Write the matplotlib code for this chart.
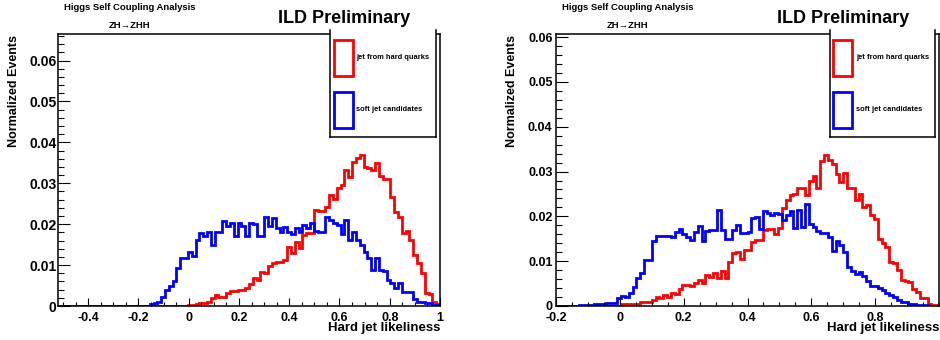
import numpy as np
import matplotlib
matplotlib.use('Agg')
import matplotlib.pyplot as plt
from matplotlib.ticker import MultipleLocator, FixedLocator, FuncFormatter
from matplotlib.patches import Rectangle
from matplotlib.lines import Line2D

# ---- data (normalized bin contents, 100 bins each) ----
left_range = (-0.52, 1.0)
left_hard = [0.0] * 34 + [
    0.0002, 0.0002, 0.0004, 0.0007, 0.0007, 0.0011, 0.0019, 0.0027, 0.0023, 0.0023,
    0.0031, 0.0037, 0.0037, 0.0040, 0.0040, 0.0045, 0.0055, 0.0068, 0.0064, 0.0084,
    0.0080, 0.0098, 0.0104, 0.0108, 0.0108, 0.0112, 0.0145, 0.0129, 0.0157, 0.0141,
    0.0174, 0.0178, 0.0178, 0.0235, 0.0232, 0.0232, 0.0243, 0.0271, 0.0262, 0.0288,
    0.0297, 0.0333, 0.0316, 0.0351, 0.0361, 0.0368, 0.0341, 0.0338, 0.0333, 0.0349,
    0.0319, 0.0310, 0.0310, 0.0267, 0.0231, 0.0218, 0.0178, 0.0183, 0.0162, 0.0125,
    0.0104, 0.0080, 0.0033, 0.0030, 0.0010, 0.0004]
left_soft = [0.0] * 24 + [
    0.0004, 0.0008, 0.0011, 0.0021, 0.0039, 0.0050, 0.0061, 0.0092, 0.0117, 0.0117,
    0.0133, 0.0122, 0.0161, 0.0178, 0.0171, 0.0182, 0.0150, 0.0182, 0.0182, 0.0209,
    0.0196, 0.0204, 0.0170, 0.0202, 0.0196, 0.0170, 0.0202, 0.0201, 0.0170, 0.0170,
    0.0217, 0.0196, 0.0214, 0.0190, 0.0180, 0.0194, 0.0180, 0.0175, 0.0190, 0.0180,
    0.0198, 0.0190, 0.0202, 0.0183, 0.0182, 0.0182, 0.0218, 0.0210, 0.0202, 0.0198,
    0.0175, 0.0210, 0.0162, 0.0180, 0.0162, 0.0149, 0.0133, 0.0117, 0.0088, 0.0117,
    0.0088, 0.0086, 0.0064, 0.0056, 0.0043, 0.0056, 0.0035, 0.0035, 0.0035, 0.0017,
    0.0011, 0.0011, 0.0007, 0.0007, 0.0003, 0.0003]

right_range = (-0.2, 1.0)
right_hard = [0.0] * 14 + [
    0.0001, 0.0001, 0.0001, 0.0004, 0.0004, 0.0004, 0.0004, 0.0004, 0.0010, 0.0010,
    0.0010, 0.0013, 0.0021, 0.0017, 0.0025, 0.0021, 0.0028, 0.0026, 0.0037, 0.0047,
    0.0047, 0.0045, 0.0051, 0.0058, 0.0052, 0.0069, 0.0065, 0.0073, 0.0063, 0.0078,
    0.0062, 0.0099, 0.0118, 0.0120, 0.0106, 0.0125, 0.0125, 0.0142, 0.0147, 0.0147,
    0.0170, 0.0172, 0.0172, 0.0160, 0.0173, 0.0218, 0.0237, 0.0248, 0.0249, 0.0263,
    0.0263, 0.0248, 0.0278, 0.0289, 0.0263, 0.0324, 0.0337, 0.0326, 0.0318, 0.0294,
    0.0276, 0.0296, 0.0264, 0.0264, 0.0237, 0.0251, 0.0222, 0.0225, 0.0203, 0.0194,
    0.0150, 0.0140, 0.0132, 0.0099, 0.0097, 0.0080, 0.0058, 0.0056, 0.0053, 0.0039,
    0.0032, 0.0017, 0.0017, 0.0005, 0.0002, 0.0002]
right_soft = [0.0] * 6 + [
    0.00015, 0.00015, 0.00015, 0.00015, 0.00045, 0.00045, 0.00045, 0.0007, 0.0007, 0.0007,
    0.0017, 0.0022, 0.0019, 0.0028, 0.0043, 0.0062, 0.0074, 0.0103, 0.0103, 0.0146,
    0.0156, 0.0156, 0.0156, 0.0156, 0.0153, 0.0166, 0.0171, 0.0161, 0.0153, 0.0147,
    0.0166, 0.0179, 0.0146, 0.0168, 0.0170, 0.0170, 0.0214, 0.0170, 0.0149, 0.0149,
    0.0170, 0.0181, 0.0164, 0.0162, 0.0166, 0.0196, 0.0199, 0.0171, 0.0211, 0.0207,
    0.0202, 0.0207, 0.0205, 0.0192, 0.0203, 0.0211, 0.0173, 0.0214, 0.0177, 0.0227,
    0.0182, 0.0177, 0.0167, 0.0164, 0.0164, 0.0155, 0.0123, 0.0144, 0.0136, 0.0120,
    0.0088, 0.0078, 0.0071, 0.0075, 0.0068, 0.0056, 0.0045, 0.0045, 0.0041, 0.0035,
    0.0028, 0.0024, 0.0021, 0.0013, 0.0010, 0.0010, 0.0005, 0.0004, 0.0003, 0.0002,
    0.0002, 0.0001, 0.0001, 0.0001]

left_xticks = [-0.4, -0.2, 0, 0.2, 0.4, 0.6, 0.8, 1.0]
right_xticks = [-0.2, 0, 0.2, 0.4, 0.6, 0.8]

plt.rcParams['font.family'] = ['Liberation Sans', 'DejaVu Sans']
plt.rcParams['font.weight'] = 'bold'

W, H = 940, 340
fig = plt.figure(figsize=(W / 100, H / 100), dpi=100)


def fx(x):
    return x / W


def fy(y):
    return 1 - y / H


def fmt_x(v, pos):
    if abs(v) < 1e-9:
        return '0'
    if abs(v - 1) < 1e-9:
        return '1'
    return f'{v:.1f}'


def fmt_y(v, pos):
    return '0' if abs(v) < 1e-9 else f'{v:.2f}'


def draw_panel(box, xrange_, hard, soft, ylim, xticks, yfs, ypad, ylab_x, text_x, ild_x, leg):
    x0, y0, x1, y1 = box
    ax = fig.add_axes([fx(x0), fy(y1), (x1 - x0) / W, (y1 - y0) / H])
    edges = np.linspace(xrange_[0], xrange_[1], len(hard) + 1)
    ax.stairs(hard, edges, color='#ff0000', lw=2.0)
    ax.stairs(soft, edges, color='#0000ff', lw=2.0)
    ax.set_xlim(*xrange_)
    ax.set_ylim(*ylim)
    ax.xaxis.set_major_locator(FixedLocator(xticks))
    ax.xaxis.set_minor_locator(MultipleLocator(0.05))
    ax.yaxis.set_major_locator(MultipleLocator(0.01))
    ax.yaxis.set_minor_locator(MultipleLocator(0.002))
    ax.xaxis.set_major_formatter(FuncFormatter(fmt_x))
    ax.yaxis.set_major_formatter(FuncFormatter(fmt_y))
    ax.tick_params(which='both', direction='in', top=False, right=False, width=0.8)
    ax.tick_params(axis='x', which='major', length=5.9, pad=4, labelsize=9)
    ax.tick_params(axis='x', which='minor', length=3)
    ax.tick_params(axis='y', which='major', length=8.3, pad=ypad, labelsize=yfs)
    ax.tick_params(axis='y', which='minor', length=4.1)
    for s in ax.spines.values():
        s.set_linewidth(1.1)

    fig.text(fx(ylab_x), fy(35), 'Normalized Events', rotation=90,
             ha='center', va='top', fontsize=9, fontweight='bold')
    fig.text(fx(x1), fy(328), 'Hard jet likeliness', ha='right', va='center',
             fontsize=9.5, fontweight='bold')
    fig.text(fx(text_x), fy(7), 'Higgs Self Coupling Analysis', ha='center', va='center',
             fontsize=6.8, fontweight='bold')
    fig.text(fx(text_x), fy(25), 'ZH\u2192ZHH', ha='center', va='center',
             fontsize=6.8, fontweight='bold')
    fig.text(fx(ild_x), fy(18.5), 'ILD Preliminary', ha='center', va='center',
             fontsize=13, fontweight='bold')

    # legend box
    lx0, lx1 = leg
    fig.add_artist(Rectangle((fx(lx0), fy(137)), (lx1 - lx0) / W, 107 / H,
                             transform=fig.transFigure, facecolor='white', edgecolor='none'))
    for xs, ys in [((lx0, lx0), (30, 137)), ((lx1, lx1), (30, 137)), ((lx0, lx1), (137, 137))]:
        fig.add_artist(Line2D([fx(v) for v in xs], [fy(v) for v in ys],
                              transform=fig.transFigure, color='black', lw=1.1))
    for (ya, yb), col, lab in [((39.5, 76), '#ff0000', 'jet from hard quarks'),
                               ((91.5, 128), '#0000ff', 'soft jet candidates')]:
        fig.add_artist(Rectangle((fx(lx0 + 3.5), fy(yb)), 19 / W, (yb - ya) / H,
                                 transform=fig.transFigure, facecolor='none',
                                 edgecolor=col, lw=2.0))
        fig.text(fx(lx0 + 26.5), fy((ya + yb) / 2), lab, ha='left', va='center',
                 fontsize=5.4, fontweight='bold')
    return ax


draw_panel((58, 34, 440, 306), left_range, left_hard, left_soft, (0, 0.0665),
           left_xticks, 10, 1, 14, 129.5, 344, (330, 436))
draw_panel((556, 34, 939, 306), right_range, right_hard, right_soft, (0, 0.0607),
           right_xticks, 9, 2.5, 512, 628, 843, (829.5, 934.5))

fig.savefig('out.png', dpi=100)
